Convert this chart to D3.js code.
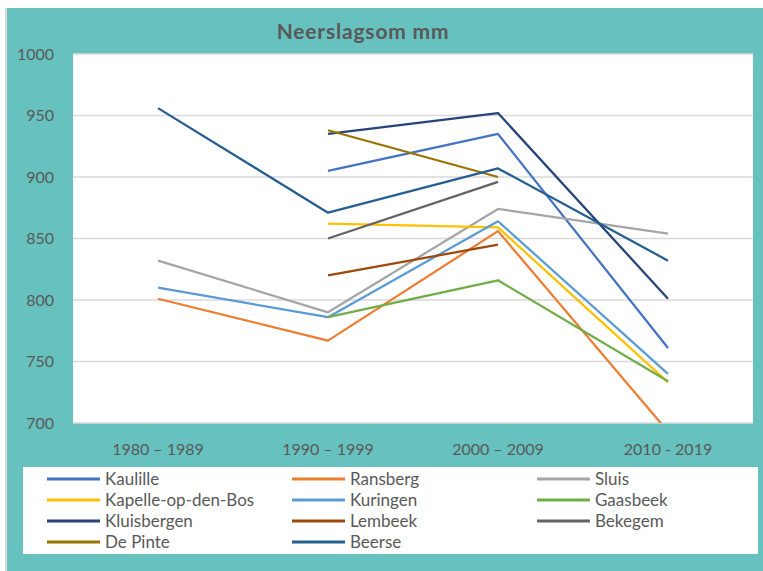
<html>
  <head>
    <script src="https://d3js.org/d3.v7.min.js"></script>
    <style>
      body { margin: 0; background: #fff; }
      text { font-family: Lato, "Open Sans", sans-serif; fill: #595959; }
    </style>
  </head>
  <body>
    <svg id="chart" width="763" height="571"></svg>
    <script>
      const periods = ["1980 \u2013 1989", "1990 \u2013 1999", "2000 \u2013 2009", "2010 - 2019"];
      const stations = ["Kaulille", "Ransberg", "Sluis", "Kapelle-op-den-Bos", "Kuringen",
        "Gaasbeek", "Kluisbergen", "Lembeek", "Bekegem", "De Pinte", "Beerse"];
      const colors = ["#4472C4", "#ED7D31", "#A5A5A5", "#FFC000", "#5B9BD5",
        "#70AD47", "#264478", "#9E480E", "#636363", "#997300", "#255E91"];

      // neerslagsom per periode (null = geen meting)
      const kaulille = [null, 905, 935, 761];
      const ransberg = [801, 767, 856, 693];
      const sluis = [832, 790, 874, 854];
      const kapelle = [null, 862, 859, 733];
      const kuringen = [810, 786, 864, 740];
      const gaasbeek = [null, 786, 816, 734];
      const kluisbergen = [null, 935, 952, 801];
      const lembeek = [null, 820, 845, null];
      const bekegem = [null, 850, 896, null];
      const depinte = [null, 938, 900, null];
      const beerse = [956, 871, 907, 832];
      const values = [kaulille, ransberg, sluis, kapelle, kuringen, gaasbeek,
        kluisbergen, lembeek, bekegem, depinte, beerse];

      const yTicks = [700, 750, 800, 850, 900, 950, 1000];

      const svg = d3.select("#chart");
      const teal = "#67C1BE";

      svg.append("rect").attr("x", 7).attr("y", 8).attr("width", 756).attr("height", 563).attr("fill", teal);
      svg.append("line").attr("x1", 6).attr("x2", 6).attr("y1", 8).attr("y2", 571)
        .attr("stroke", "#d9d9d9").attr("stroke-width", 2);

      const plot = { left: 73, right: 753, top: 54, bottom: 423 };

      const x = d3.scaleBand().domain(periods).range([plot.left, plot.right]);
      const y = d3.scaleLinear().domain([700, 1000]).range([plot.bottom, plot.top]);

      svg.append("rect")
        .attr("x", plot.left).attr("y", plot.top)
        .attr("width", plot.right - plot.left).attr("height", plot.bottom - plot.top)
        .attr("fill", "#fff");

      svg.append("clipPath").attr("id", "clip").append("rect")
        .attr("x", plot.left).attr("y", plot.top - 2)
        .attr("width", plot.right - plot.left).attr("height", plot.bottom - plot.top + 2);

      // gridlines
      svg.append("g").selectAll("line").data(yTicks).join("line")
        .attr("x1", plot.left).attr("x2", plot.right)
        .attr("y1", (d) => y(d)).attr("y2", (d) => y(d))
        .attr("stroke", "#d9d9d9").attr("stroke-width", 1.5);

      // y labels
      svg.append("g").selectAll("text").data(yTicks).join("text")
        .attr("x", 54).attr("y", (d) => y(d)).attr("dy", "0.35em")
        .attr("text-anchor", "end").attr("font-size", 16)
        .text((d) => d);

      // x labels
      svg.append("g").selectAll("text").data(periods).join("text")
        .attr("x", (d) => x(d) + x.bandwidth() / 2).attr("y", 455)
        .attr("text-anchor", "middle").attr("font-size", 16)
        .text((d) => d);

      // title
      svg.append("text").attr("x", 363).attr("y", 39)
        .attr("text-anchor", "middle").attr("font-size", 21).attr("font-weight", "bold")
        .attr("letter-spacing", 0.8)
        .text("Neerslagsom mm");

      const line = d3.line()
        .defined((d) => d != null)
        .x((d, i) => x(periods[i]) + x.bandwidth() / 2)
        .y((d) => y(d));

      svg.append("g").attr("clip-path", "url(#clip)")
        .selectAll("path").data(values).join("path")
        .attr("d", (d) => line(d))
        .attr("fill", "none")
        .attr("stroke", (d, i) => colors[i])
        .attr("stroke-width", 2.25)
        .attr("stroke-linejoin", "round");

      // legend
      svg.append("rect").attr("x", 23).attr("y", 467).attr("width", 735).attr("height", 87).attr("fill", "#fff");
      const colX = [47, 292, 537];
      const rowY = [479, 500, 521, 542];
      const items = svg.append("g").selectAll("g").data(stations).join("g")
        .attr("transform", (d, i) => `translate(${colX[i % 3]}, ${rowY[Math.floor(i / 3)]})`);
      items.append("line").attr("x1", 0).attr("x2", 53)
        .attr("stroke", (d, i) => colors[i]).attr("stroke-width", 3);
      items.append("text").attr("x", 58).attr("dy", "0.35em").attr("font-size", 17)
        .text((d) => d);
    </script>
  </body>
</html>
